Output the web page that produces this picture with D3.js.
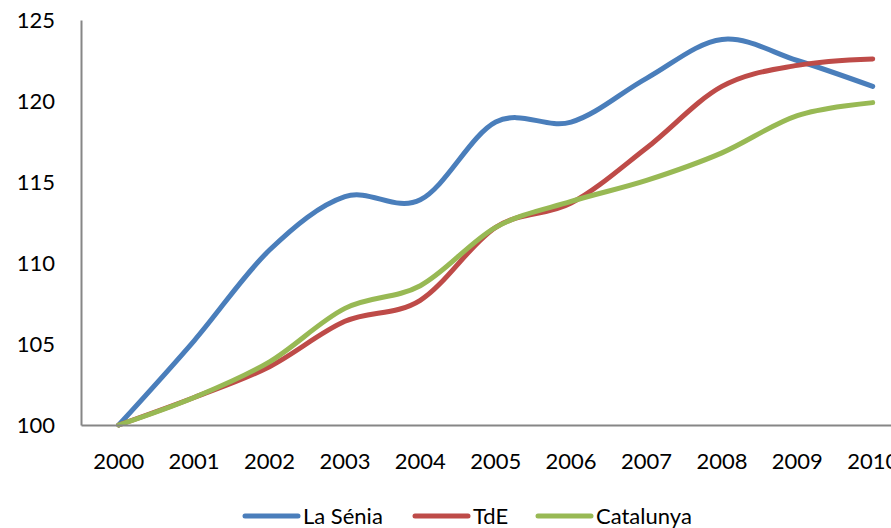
<!DOCTYPE html>
<html>
<head>
<meta charset="utf-8">
<script src="https://cdn.jsdelivr.net/npm/d3@7"></script>
<style>
  body { margin: 0; background: #fff; }
  svg { display: block; font-family: Lato, "Liberation Sans", sans-serif; }
</style>
</head>
<body>
<script>
var years = ['2000','2001','2002','2003','2004','2005','2006','2007','2008','2009','2010'];
var laSenia = [100, 105.2, 110.8, 114.1, 113.9, 118.7, 118.7, 121.4, 123.8, 122.5, 120.9];
var tde = [100, 101.7, 103.6, 106.4, 107.7, 112.2, 113.7, 117.1, 120.9, 122.2, 122.6];
var catalunya = [100, 101.7, 103.9, 107.2, 108.6, 112.2, 113.8, 115.1, 116.8, 119.1, 119.9];
var yTicks = [100, 105, 110, 115, 120, 125];

var seriesNames = ['La Sénia', 'TdE', 'Catalunya'];
var seriesColors = ['#4a7ebb', '#be4b48', '#98b954'];
var seriesValues = [laSenia, tde, catalunya];

var width = 891, height = 528;

var svg = d3.select('body').append('svg')
    .attr('width', width)
    .attr('height', height);

// category axis, plot runs past the right edge like the original
var x = d3.scaleBand()
    .domain(years)
    .range([81, 81 + 11 * 75.4])
    .padding(0);

var y = d3.scaleLinear()
    .domain([100, 125])
    .range([425, 20]);

var cx = function(yr){ return x(yr) + x.bandwidth() / 2; };

var yAxis = svg.append('g')
    .attr('transform', 'translate(81,0)')
    .call(d3.axisLeft(y).tickValues(yTicks).tickSize(0).tickPadding(26).tickFormat(d3.format('d')));

yAxis.select('.domain').attr('stroke', '#868686').attr('stroke-width', 2);
yAxis.selectAll('text')
    .attr('font-size', 22)
    .attr('font-family', 'Lato, "Liberation Sans", sans-serif')
    .attr('fill', '#000');

var line = d3.line()
    .x(function(d, i){ return cx(years[i]); })
    .y(function(d){ return y(d); })
    .curve(d3.curveCatmullRom.alpha(0));

svg.append('g').selectAll('path')
    .data(seriesValues)
    .join('path')
    .attr('d', line)
    .attr('fill', 'none')
    .attr('stroke', function(d, i){ return seriesColors[i]; })
    .attr('stroke-width', 5)
    .attr('stroke-linecap', 'round')
    .attr('stroke-linejoin', 'round');

var xAxis = svg.append('g')
    .attr('transform', 'translate(0,425)')
    .call(d3.axisBottom(x).tickSize(0).tickPadding(28));

xAxis.select('.domain').attr('stroke', '#868686').attr('stroke-width', 2);
xAxis.selectAll('text')
    .attr('font-size', 22)
    .attr('font-family', 'Lato, "Liberation Sans", sans-serif')
    .attr('fill', '#000');

// legend
var legendX = [245, 415, 538];
var legend = svg.append('g').selectAll('g')
    .data(seriesNames)
    .join('g')
    .attr('transform', function(d, i){ return 'translate(' + legendX[i] + ',516)'; });

legend.append('line')
    .attr('x1', 0).attr('x2', 53)
    .attr('y1', 0).attr('y2', 0)
    .attr('stroke', function(d, i){ return seriesColors[i]; })
    .attr('stroke-width', 5)
    .attr('stroke-linecap', 'round');

legend.append('text')
    .attr('x', 58)
    .attr('y', 8)
    .attr('font-size', 22)
    .attr('fill', '#000')
    .text(function(d){ return d; });
</script>
</body>
</html>
